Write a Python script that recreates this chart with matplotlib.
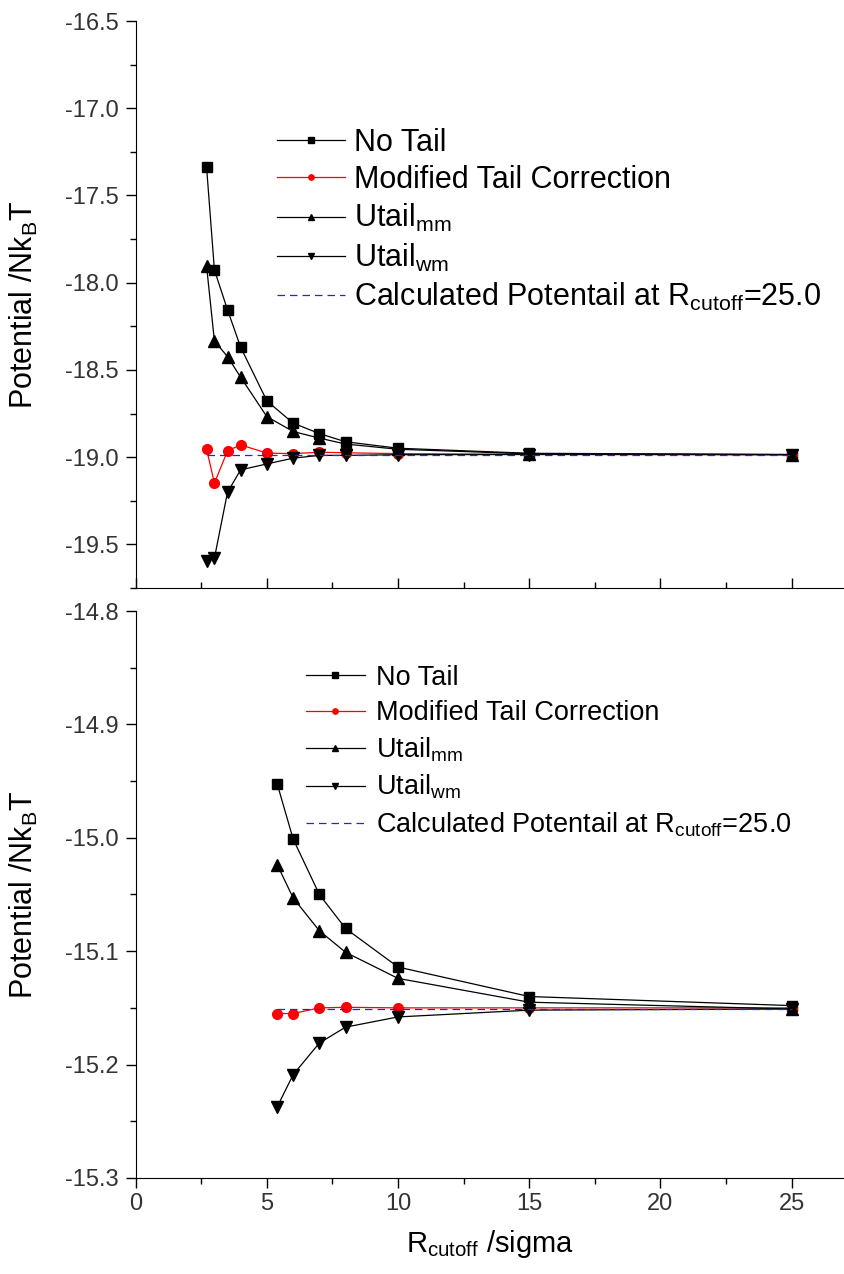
import matplotlib
matplotlib.use('Agg')
import matplotlib.pyplot as plt
from matplotlib.ticker import MultipleLocator

plt.rcParams['font.family'] = ['Liberation Sans', 'DejaVu Sans']
plt.rcParams['mathtext.fontset'] = 'custom'
plt.rcParams['mathtext.rm'] = 'Liberation Sans'
plt.rcParams['mathtext.it'] = 'Liberation Sans'

# top panel
rc_top = [2.7, 3, 3.5, 4, 5, 6, 7, 8, 10, 15, 25]
notail_top = [-17.335, -17.927, -18.156, -18.37, -18.678, -18.805, -18.865, -18.912, -18.949, -18.978, -18.985]
modtail_top = [-18.953, -19.149, -18.964, -18.93, -18.977, -18.98, -18.972, -18.975, -18.98, -18.984, -18.985]
umm_top = [-17.904, -18.334, -18.424, -18.542, -18.768, -18.853, -18.891, -18.925, -18.955, -18.981, -18.986]
uwm_top = [-19.598, -19.579, -19.201, -19.073, -19.039, -19.006, -18.99, -18.99, -18.986, -18.985, -18.986]
calc_top = -18.985

# bottom panel
rc_bot = [5.4, 6, 7, 8, 10, 15, 25]
notail_bot = [-14.953, -15.001, -15.050, -15.080, -15.114, -15.140, -15.148]
modtail_bot = [-15.155, -15.155, -15.150, -15.1495, -15.150, -15.150, -15.150]
umm_bot = [-15.024, -15.053, -15.082, -15.101, -15.124, -15.145, -15.151]
uwm_bot = [-15.237, -15.209, -15.181, -15.167, -15.158, -15.152, -15.151]
calc_bot = -15.151


def draw_panel(ax, rc, notail, modtail, umm, uwm, calc, leg_size, leg_anchor, leg_space, text_pad):
    ax.plot(rc, notail, color='black', lw=0.9, marker='s', ms=7, label='No Tail')
    ax.plot(rc, modtail, color='red', lw=0.9, marker='o', ms=7, label='Modified Tail Correction')
    ax.plot(rc, umm, color='black', lw=0.9, marker='^', ms=8, label='Utail$_{\\mathrm{mm}}$')
    ax.plot(rc, uwm, color='black', lw=0.9, marker='v', ms=8, label='Utail$_{\\mathrm{wm}}$')
    ax.plot([rc[0], rc[-1]], [calc, calc], color='#2222ee', lw=0.9, ls=(0, (6, 4)),
            label='Calculated Potentail at R$_{\\mathrm{cutoff}}$=25.0')
    ax.set_xlim(0, 27)
    ax.xaxis.set_major_locator(MultipleLocator(5))
    ax.xaxis.set_minor_locator(MultipleLocator(2.5))
    ax.spines['right'].set_visible(False)
    ax.spines['top'].set_visible(False)
    ax.tick_params(axis='both', which='major', direction='out', length=7, width=1,
                   labelsize=17, labelcolor='#333333')
    ax.tick_params(axis='y', which='major', pad=5)
    ax.tick_params(axis='both', which='minor', direction='out', length=4, width=1)
    ax.set_ylabel('Potential /Nk$_{\\mathrm{B}}$T', fontsize=22)
    ax.yaxis.set_label_coords(-0.135, 0.5)
    leg = ax.legend(loc='upper left', bbox_to_anchor=leg_anchor, frameon=False,
                    fontsize=leg_size, markerscale=0.55, handlelength=2.2,
                    handletextpad=text_pad, labelspacing=leg_space, borderpad=0, borderaxespad=0)
    return leg


fig = plt.figure(figsize=(8.44, 12.74), dpi=100)
ax1 = fig.add_axes([0.1608, 0.5385, 0.8392, 0.445])
ax2 = fig.add_axes([0.1608, 0.0754, 0.8392, 0.445])

draw_panel(ax1, rc_top, notail_top, modtail_top, umm_top, uwm_top, calc_top, 22, (0.2, 0.812), 0.24, 0.3)
ax1.set_ylim(-19.75, -16.5)
ax1.yaxis.set_major_locator(MultipleLocator(0.5))
ax1.yaxis.set_minor_locator(MultipleLocator(0.25))
ax1.yaxis.set_major_formatter(plt.FormatStrFormatter('%.1f'))
ax1.tick_params(axis='x', which='both', direction='in', labelbottom=False)

draw_panel(ax2, rc_bot, notail_bot, modtail_bot, umm_bot, uwm_bot, calc_bot, 19.5, (0.24, 0.905), 0.34, 0.4)
ax2.set_ylim(-15.3, -14.8)
ax2.yaxis.set_major_locator(MultipleLocator(0.1))
ax2.yaxis.set_minor_locator(MultipleLocator(0.05))
ax2.yaxis.set_major_formatter(plt.FormatStrFormatter('%.1f'))
ax2.set_xlabel('R$_{\\mathrm{cutoff}}$ /sigma', fontsize=21, labelpad=10)

fig.savefig('out.png', dpi=100)
